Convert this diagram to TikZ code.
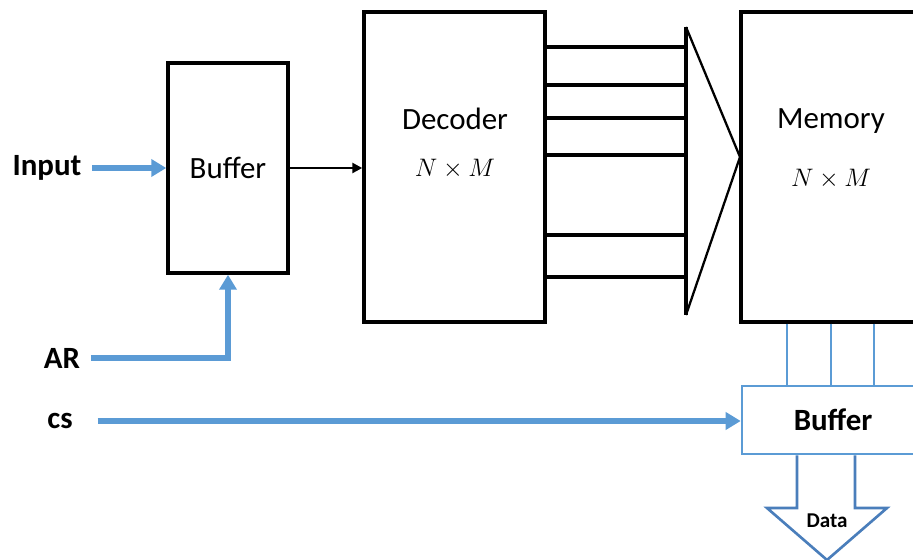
\documentclass[tikz,border=0pt]{standalone}
\usepackage{fontspec}
\setmainfont{Carlito}
\usetikzlibrary{arrows.meta}
\definecolor{sigblue}{HTML}{5B9BD5}
\definecolor{datablue}{HTML}{4A7EBB}
\begin{document}
\begin{tikzpicture}[
x=0.02cm, y=-0.02cm,
every node/.style={font=\fontsize{17.6}{20}\selectfont, inner sep=2pt},
block/.style={draw, line width=2pt},
lbl/.style={font=\fontsize{17.6}{20}\selectfont\bfseries, inner sep=6pt},
math/.style={font=\fontsize{14}{16}\selectfont},
sig/.style={draw=sigblue, line width=3pt, -{Triangle[length=3mm,width=3.4mm]}},
wire/.style={draw=sigblue, line width=1.3pt},
bus/.style={line width=2pt}
]
\path[use as bounding box, clip] (0,0) rectangle (913,560);

\node[block, minimum width=2.4cm, minimum height=4.2cm] (buf) at (228,168) {Buffer};
\node[block, minimum width=3.62cm, minimum height=6.2cm] (dec) at (454.5,167) {};
\node (dectxt) at (455,119) {Decoder};
\node[math] (decsize) at (455,169) {$N \times M$};
\node[block, minimum width=3.6cm, minimum height=6.2cm] (mem) at (831,167) {};
\node (memtxt) at (831,121) {Memory};
\node[math] (memsize) at (831,179) {$N \times M$};
\node[draw=sigblue, line width=1.5pt, minimum width=3.64cm, minimum height=1.36cm,
      font=\fontsize{17.6}{20}\selectfont\bfseries] (obuf) at (833,420) {Buffer};

\node[lbl] (inp) at (47,168) {Input};
\node[lbl] (ar) at (62,358) {AR};
\node[lbl] (cs) at (60,421) {cs};

\coordinate (muxtop) at (686,27);
\coordinate (muxbot) at (686,315);
\coordinate (muxtip) at (740,157);
\draw[line width=1.3pt] (muxtop) -- (muxtip) -- (muxbot);
\draw[line width=2pt] (muxtop) -- (muxbot);
\foreach \y in {47,85,118,155,235,277}
  \draw[bus] (dec.east |- 0,\y) -- (muxtop |- 0,\y);

\draw[sig] (inp) -- (inp -| buf.west);
\draw[sig] (ar) -| (buf);
\draw[sig, shorten <=8pt] (cs) -- (cs -| obuf.west);
\draw[line width=1.5pt, -{Triangle[length=2mm,width=2mm]}] (buf.east) -- (buf.east -| dec.west);

\foreach \x in {787,831,874}
  \draw[wire] (mem.south -| \x,0) -- (obuf.north -| \x,0);

\draw[draw=datablue, line width=1.5pt, line join=miter]
  (obuf.south -| 797,0) -- (797,508) -- (767,508) -- (827,560)
  -- (887,508) -- (855,508) -- (obuf.south -| 855,0);
\node[font=\fontsize{12}{14}\selectfont\bfseries] (data) at (827,521) {Data};
\end{tikzpicture}
\end{document}
